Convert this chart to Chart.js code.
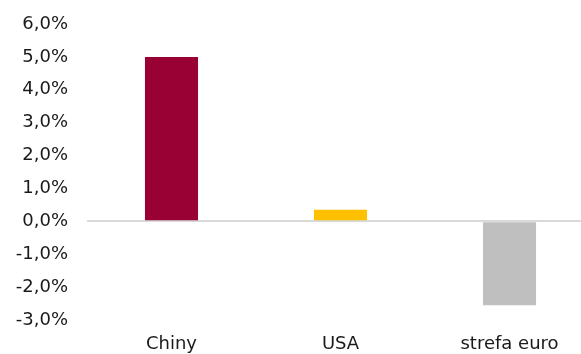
<!DOCTYPE html>
<html>
<head>
<meta charset="utf-8">
<script src="https://cdn.jsdelivr.net/npm/chart.js@4/dist/chart.umd.min.js"></script>
<style>
  html, body { margin: 0; padding: 0; background: #fff; overflow: hidden; }
  #wrap { width: 594px; height: 354px; }
</style>
</head>
<body>
<div id="wrap"><canvas id="myChart"></canvas></div>
<script>
const categories = ['Chiny', 'USA', 'strefa euro'];
const values = [5.0, 0.35, -2.55];
const barColors = ['#990033', '#FFC000', '#BFBFBF'];
const yTicks = [-3, -2, -1, 0, 1, 2, 3, 4, 5, 6];

Chart.defaults.font.family = '"DejaVu Sans", Verdana, sans-serif';
Chart.defaults.font.size = 18;
Chart.defaults.color = '#1a1a1a';

var ctx = document.getElementById('myChart').getContext('2d');
var myChart = new Chart(ctx, {
    type: 'bar',
    data: {
        labels: categories,
        datasets: [{
            data: values,
            backgroundColor: barColors,
            borderWidth: 0,
            barPercentage: 0.314,
            categoryPercentage: 1
        }]
    },
    options: {
        responsive: true,
        maintainAspectRatio: false,
        animation: false,
        layout: { padding: { top: 24, right: 0, bottom: 0, left: 0 } },
        plugins: { legend: { display: false }, tooltip: { enabled: false } },
        scales: {
            x: {
                grid: { display: false },
                border: { display: false },
                ticks: { padding: 6, maxRotation: 0 },
                afterFit: (scale) => { scale.height = 34; }
            },
            y: {
                min: yTicks[0],
                max: yTicks[yTicks.length - 1],
                afterBuildTicks: (scale) => { scale.ticks = yTicks.map(v => ({ value: v })); },
                grid: {
                    drawTicks: false,
                    lineWidth: 2,
                    color: (c) => c.tick && c.tick.value === 0 ? '#d9d9d9' : 'rgba(0,0,0,0)'
                },
                border: { display: false },
                ticks: {
                    padding: 19,
                    callback: (v) => v.toFixed(1).replace('.', ',') + '%'
                },
                afterFit: (scale) => {
                    scale.width = 87;
                    scale.paddingTop = 0;
                    scale.paddingBottom = 0;
                }
            }
        }
    }
});
</script>
</body>
</html>
